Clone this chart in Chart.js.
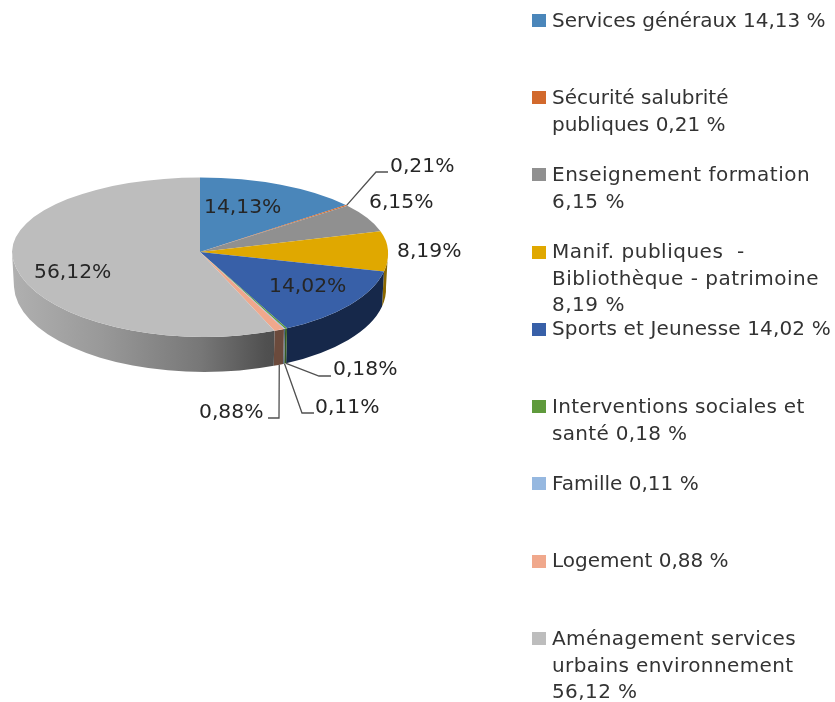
<!DOCTYPE html>
<html lang="fr">
<head>
    <meta charset="UTF-8">
    <title>Répartition des dépenses</title>
    <script src="https://cdn.jsdelivr.net/npm/chart.js"></script>
    <style>
        html, body { margin: 0; background: #fff; overflow: hidden; }
        #wrap { position: relative; width: 835px; height: 702px; font-family: 'DejaVu Sans', sans-serif; }
        #pieChart { position: absolute; left: 0; top: 0; }
        .legend-item { position: absolute; left: 552px; font-size: 20px; line-height: 26.7px; color: #333333; white-space: pre; }
        .legend-swatch { position: absolute; left: 532px; width: 14px; height: 13px; }
    </style>
</head>
<body>
<div id="wrap">
    <canvas id="pieChart" width="835" height="702"></canvas>
</div>
<script>
    // line breaks are the ones of the original legend
    const categories = [
        'Services généraux ',
        'Sécurité salubrité\npubliques ',
        'Enseignement formation\n',
        'Manif. publiques  -\nBibliothèque - patrimoine\n',
        'Sports et Jeunesse ',
        'Interventions sociales et\nsanté ',
        'Famille ',
        'Logement ',
        'Aménagement services\nurbains environnement\n'
    ];
    const values = [14.13, 0.21, 6.15, 8.19, 14.02, 0.18, 0.11, 0.88, 56.12];

    const topColors = ['#4a86ba', '#d2692c', '#909090', '#e0a800', '#3860a8', '#5f9a3c', '#96b8e0', '#f0a88c', '#bdbdbd'];
    const sideColors = ['#2a4a68', '#70381a', '#505050', '#8a6800', '#16284a', '#355a20', '#506a80', '#6b4a3c', null];

    // text top of each legend block, swatch top is derived from it
    const legendTops = [7, 84, 161, 238, 315, 393, 470, 547, 625];
    const legendSwatchTops = [14, 91, 168, 246, 323, 400, 477, 555, 632];
    const legendSpacing = [-0.05, 0, 0.5, 0.5, 0.15, 0.3, 0, 0, 0.4];

    // baseline positions of the data labels
    const labelX = [204, 390, 369, 397, 269, 333, 315, 199, 34];
    const labelY = [213, 172, 208, 257, 292, 375, 413, 418, 278];
    // leader lines: [elbow x, elbow y, end x], null when label has none
    const leaders = [null, [376, 172, 388], null, null, null, [319, 376, 331], [302, 413, 314], [279, 418, 268], null];

    // perspective of the disc: apex is above the middle of the ellipse, front leans right
    const pie = { cx: 200, cy: 252, ryTop: 74.5, ryBottom: 85, depth: 35, bottomRx: 186, lean: 0.05 };

    function formatLabel(v) {
        return v.toFixed(2).replace('.', ',') + '%';
    }

    function clampFront(a0, a1) {
        // chart angles start at -PI/2, keep what faces the viewer (0..PI)
        const twoPi = Math.PI * 2;
        let s = a0, e = a1;
        if (e > twoPi) { s -= twoPi; e -= twoPi; }
        s = Math.max(s, 0);
        e = Math.min(e, Math.PI);
        return e > s ? [s, e] : null;
    }

    const pie3d = {
        id: 'pie3d',
        beforeDatasetsDraw(chart) {
            const ctx = chart.ctx;
            const arcs = chart.getDatasetMeta(0).data;
            const R = arcs[0].outerRadius;

            // side wall
            const grey = ctx.createLinearGradient(12, 0, 282, 0);
            grey.addColorStop(0, '#b0b0b0');
            grey.addColorStop(0.33, '#999999');
            grey.addColorStop(0.7, '#777777');
            grey.addColorStop(0.94, '#505050');
            grey.addColorStop(1, '#4c4c4c');
            arcs.forEach((arc, i) => {
                const range = clampFront(arc.startAngle, arc.endAngle);
                if (!range) return;
                ctx.save();
                ctx.beginPath();
                ctx.transform(1, 0, pie.lean, 1, -pie.lean * pie.cy, 0);
                ctx.ellipse(pie.cx, pie.cy, R, pie.ryBottom, 0, range[0], range[1]);
                ctx.ellipse(pie.cx - pie.lean * pie.depth, pie.cy + pie.depth, pie.bottomRx, pie.ryBottom, 0, range[1], range[0], true);
                ctx.closePath();
                ctx.restore();
                ctx.fillStyle = sideColors[i] || grey;
                ctx.fill();
            });

            // top face, squashed differently above and below the apex
            [[0, pie.cy, pie.ryTop, 0], [pie.cy - 0.5, chart.height, pie.ryBottom, pie.lean * pie.ryBottom / R]].forEach(part => {
                ctx.save();
                ctx.beginPath();
                ctx.rect(0, part[0], chart.width, part[1] - part[0]);
                ctx.clip();
                ctx.translate(pie.cx, pie.cy);
                ctx.transform(1, 0, part[3], part[2] / R, 0, 0);
                ctx.translate(-arcs[0].x, -arcs[0].y);
                arcs.forEach(arc => arc.draw(ctx));
                ctx.restore();
            });
            return false;
        },
        // afterDatasetsDraw is skipped once beforeDatasetsDraw returned false
        afterDraw(chart) {
            const ctx = chart.ctx;
            const arcs = chart.getDatasetMeta(0).data;
            const R = arcs[0].outerRadius;

            ctx.strokeStyle = '#505050';
            ctx.lineWidth = 1.3;
            arcs.forEach((arc, i) => {
                if (!leaders[i]) return;
                const mid = (arc.startAngle + arc.endAngle) / 2;
                const below = Math.sin(mid) > 0;
                const dy = (below ? pie.ryBottom : pie.ryTop) * Math.sin(mid);
                const x0 = pie.cx + R * Math.cos(mid) + (below ? pie.lean * dy : 0);
                const y0 = pie.cy + dy + (below ? pie.depth : 0);
                ctx.beginPath();
                ctx.moveTo(x0, y0);
                ctx.lineTo(leaders[i][0], leaders[i][1]);
                ctx.lineTo(leaders[i][2], leaders[i][1]);
                ctx.stroke();
            });

            ctx.font = "20.3px 'DejaVu Sans'";
            ctx.fillStyle = '#262626';
            ctx.textAlign = 'left';
            ctx.textBaseline = 'alphabetic';
            values.forEach((v, i) => ctx.fillText(formatLabel(v), labelX[i], labelY[i]));
        }
    };

    new Chart(document.getElementById('pieChart').getContext('2d'), {
        type: 'pie',
        data: {
            labels: categories.map(c => c.replace('\n', ' ').trim()),
            datasets: [{
                data: values,
                backgroundColor: topColors,
                borderWidth: 0
            }]
        },
        options: {
            responsive: false,
            animation: false,
            events: [],
            radius: 188,
            plugins: {
                legend: { display: false },
                tooltip: { enabled: false }
            }
        },
        plugins: [pie3d]
    });

    const wrap = document.getElementById('wrap');
    categories.forEach((cat, i) => {
        const swatch = document.createElement('div');
        swatch.className = 'legend-swatch';
        swatch.style.top = legendSwatchTops[i] + 'px';
        swatch.style.background = topColors[i];
        wrap.appendChild(swatch);

        const item = document.createElement('div');
        item.className = 'legend-item';
        item.style.top = legendTops[i] + 'px';
        item.style.letterSpacing = legendSpacing[i] + 'px';
        item.textContent = cat + values[i].toFixed(2).replace('.', ',') + ' %';
        wrap.appendChild(item);
    });
</script>
</body>
</html>
